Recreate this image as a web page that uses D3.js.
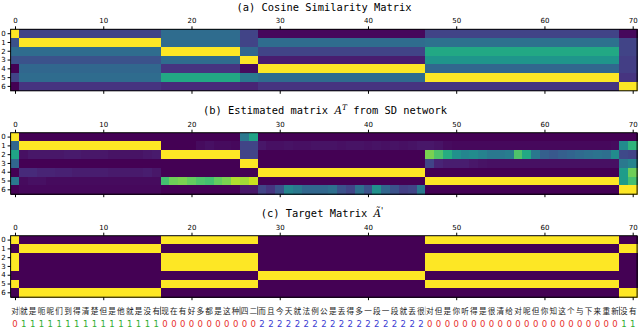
<!DOCTYPE html>
<meta charset="utf-8">
<title>SD matrices</title>
<style>
  body { margin: 0; background: #fff; }
  .tick text { font: 7px "DejaVu Sans", sans-serif; fill: #000; }
  .title { font: 10.4px "DejaVu Sans Mono", monospace; fill: #000; }
  .cell { shape-rendering: crispEdges; }
</style>
<body>
<svg id="chart" width="640" height="328"></svg>
<script src="https://cdn.jsdelivr.net/npm/d3@7"></script>
<script>
// column labels: one token per column, speaker id per column, segment id per column
var tokens = "对就是呃呢们到得清楚但是他就是没有现在有好多都是这种四二而且今天就法例公是丢得多一段一段就丢很对但是你听得是很清给对呢但你知这个与下来重新没有".split("");
var speakers = "01111111111111111000000000002222222222222222222000000000000000000000011".split("").map(Number);
var segments = "01111111111111111222222222334444444444444444444555555555555555555555566".split("").map(Number);
var segBreaks = [1, 17, 26, 28, 47, 69];
var xTicks = [0, 10, 20, 30, 40, 50, 60, 70];
var rowLabels = [0, 1, 2, 3, 4, 5, 6];

// (a) cosine similarity, row = segment, column = segment of each token
var cosine = [
  [1.00, 0.20, 0.35, 0.20, 0.02, 0.20, 0.02],
  [0.25, 1.00, 0.35, 0.20, 0.35, 0.37, 0.20],
  [0.35, 0.35, 1.00, 0.33, 0.20, 0.60, 0.20],
  [0.25, 0.25, 0.35, 1.00, 0.08, 0.52, 0.18],
  [0.00, 0.33, 0.15, 0.03, 1.00, 0.33, 0.18],
  [0.20, 0.35, 0.60, 0.40, 0.35, 1.00, 0.15],
  [0.00, 0.15, 0.12, 0.10, 0.15, 0.15, 1.00]
];

// (b) estimated matrix A^T, one row per output, one value per token
var est0 = [1.00,
  0,0,0,0,0,0,0,0,0,0,0,0,0,0,0,0,
  0,0,0,0,0,0,0,0,0, 0.40,0.58,
  0,0,0,0,0,0,0,0,0,0,0,0,0,0,0,0,0,0,0,
  0,0,0,0,0,0,0,0,0,0,0,0,0,0,0,0,0,0,0,0,0,0,
  0.00,0.00];
var est1 = [0.33,
  1,1,1,1,1,1,1,1,1,1,1,1,1,1,1,1,
  0.00,0.00,0.00,0.00,0.03,0.04,0.03,0.03,0.02, 0.20,0.20,
  0.06,0.04,0.04,0.05,0.04,0.04,0.05,0.05,0.05,0.04,0.05,0.05,0.04,0.05,0.04,0.05,0.04,0.05,0.06,
  0.06,0.05,0.03,0.02,0.02,0.02,0.02,0.02,0.02,0.02,0.02,0.02,0.02,0.02,0.02,0.02,0.02,0.02,0.02,0.02,0.02,0.03,
  0.48,0.65];
var est2 = [0.58,
  0.04,0.06,0.06,0.06,0.06,0.07,0.07,0.06,0.06,0.06,0.05,0.05,0.05,0.05,0.06,0.07,
  1,1,1,1,1,1,1,1,1, 0.20,0.20,
  0,0,0,0,0,0,0,0,0,0,0,0,0,0,0,0,0,0,0,
  0.80,0.72,0.62,0.50,0.46,0.48,0.44,0.40,0.40,0.42,0.72,0.60,0.40,0.30,0.27,0.30,0.32,0.34,0.36,0.38,0.36,0.48,
  0.22,0.20];
var est3 = [0.33,
  0,0,0,0,0,0,0,0,0,0,0,0,0,0,0,0,
  0,0,0,0,0,0,0,0,0, 1.00,1.00,
  0,0,0,0,0,0,0,0,0,0,0,0,0,0,0,0,0,0,0,
  0.20,0.10,0.08,0.08,0.08,0.06,0.05,0.04,0.04,0.04,0.04,0.04,0.04,0.04,0.04,0.04,0.04,0.04,0.04,0.04,0.04,0.04,
  0.40,0.45];
var est4 = [0.00,
  0.12,0.12,0.10,0.10,0.09,0.09,0.08,0.08,0.08,0.08,0.07,0.07,0.07,0.07,0.08,0.06,
  0,0,0,0,0,0,0,0,0, 0.00,0.00,
  1,1,1,1,1,1,1,1,1,1,1,1,1,1,1,1,1,1,1,
  0,0,0,0,0,0,0,0,0,0,0,0,0,0,0,0,0,0,0,0,0,0,
  0.55,0.78];
var est5 = [0.40,
  0.03,0.04,0.04,0.03,0.03,0.03,0.03,0.03,0.03,0.03,0.03,0.03,0.03,0.03,0.03,0.03,
  0.70,0.78,0.80,0.76,0.72,0.70,0.76,0.80,0.88, 0.86,0.92,
  0,0,0,0,0,0,0,0,0,0,0,0,0,0,0,0,0,0,0,
  1,1,1,1,1,1,1,1,1,1,1,1,1,1,1,1,1,1,1,1,1,1,
  0.55,0.70];
var est6 = [0.00,
  0.02,0.02,0.02,0.02,0.02,0.02,0.02,0.02,0.02,0.02,0.02,0.02,0.02,0.02,0.02,0.02,
  0,0,0,0,0,0,0,0,0, 0.06,0.06,
  0.20,0.15,0.25,0.45,0.40,0.33,0.33,0.33,0.36,0.25,0.20,0.36,0.25,0.50,0.33,0.25,0.18,0.20,0.40,
  0,0,0,0,0,0,0,0,0,0,0,0,0,0,0,0,0,0,0,0,0,0,
  1.00,1.00];
var estimated = [est0, est1, est2, est3, est4, est5, est6];

// (c) target matrix
var target = [
  "10000000000000000111111111110000000000000000000111111111111111111111100",
  "01111111111111111000000000000000000000000000000000000000000000000000011",
  "10000000000000000111111111110000000000000000000111111111111111111111100",
  "10000000000000000111111111110000000000000000000111111111111111111111100",
  "00000000000000000000000000001111111111111111111000000000000000000000000",
  "10000000000000000111111111110000000000000000000111111111111111111111100",
  "01111111111111111000000000000000000000000000000000000000000000000000011"
].map(function(s) { return s.split("").map(Number); });

var speakerColors = ["#e8302c", "#30ad30", "#3a3ad2"];

var svg = d3.select("#chart");
var cols = d3.range(tokens.length);

var x = d3.scaleBand().domain(cols).range([10.6, 637.1]);
var color = d3.scaleSequential(d3.interpolateViridis).domain([0, 1]);

var cosineFull = cosine.map(function(r) { return segments.map(function(s) { return r[s]; }); });

var panels = [
  {top: 29.3, data: cosineFull},
  {top: 132.7, data: estimated},
  {top: 235.7, data: target}
];

panels.forEach(function(p) {
  var y = d3.scaleBand().domain(rowLabels).range([p.top, p.top + 61.5]);
  var g = svg.append("g");
  p.data.forEach(function(row, r) {
    g.selectAll(null)
      .data(row)
      .enter().append("rect")
        .attr("class", "cell")
        .attr("x", function(d, i) { return x(i); })
        .attr("y", y(r))
        .attr("width", x.bandwidth() + 0.6)
        .attr("height", y.bandwidth() + 0.6)
        .attr("fill", function(d) { return color(d); });
  });
  g.append("rect")
    .attr("x", x.range()[0]).attr("y", p.top)
    .attr("width", x.range()[1] - x.range()[0]).attr("height", 61.5)
    .attr("fill", "none").attr("stroke", "#000").attr("stroke-width", 1);

  var xc = d3.scaleLinear().domain([0, 70]).range([x(0) + x.bandwidth() / 2, x(70) + x.bandwidth() / 2]);
  g.append("g").attr("transform", "translate(0," + p.top + ")")
    .call(d3.axisTop(xc).tickValues(xTicks).tickSize(3).tickPadding(3))
    .call(function(a) { a.select(".domain").remove(); });
  g.append("g").attr("transform", "translate(0," + (p.top + 61.5) + ")")
    .call(d3.axisBottom(xc).tickValues(xTicks).tickSize(3).tickFormat(""))
    .call(function(a) { a.select(".domain").remove(); });
  g.append("g").attr("transform", "translate(" + x.range()[0] + ",0)")
    .call(d3.axisLeft(y).tickSize(3).tickPadding(2))
    .call(function(a) { a.select(".domain").remove(); });
});

// titles
svg.append("text").attr("class", "title").attr("x", 324).attr("y", 11)
  .attr("text-anchor", "middle").text("(a) Cosine Similarity Matrix");

var tb = svg.append("text").attr("class", "title").attr("x", 325).attr("y", 114)
  .attr("text-anchor", "middle");
tb.append("tspan").text("(b) Estimated matrix ");
tb.append("tspan").attr("font-family", "DejaVu Serif").attr("font-style", "italic").text("A");
tb.append("tspan").attr("font-family", "DejaVu Serif").attr("font-style", "italic")
  .attr("font-size", 7.5).attr("dy", -4).text("T");
tb.append("tspan").attr("dy", 4).text(" from SD network");

var tc = svg.append("text").attr("class", "title").attr("x", 322).attr("y", 217)
  .attr("text-anchor", "middle");
tc.append("tspan").text("(c) Target Matrix ");
tc.append("tspan").attr("font-family", "DejaVu Serif").attr("font-style", "italic").text("\u00C3");
tc.append("tspan").attr("font-family", "DejaVu Sans").attr("font-size", 8).attr("dy", -3).text("'");

// tokens and speaker ids under the matrices
svg.append("g").selectAll("text")
  .data(tokens)
  .enter().append("text")
    .attr("x", function(d, i) { return x(i) + x.bandwidth() / 2; })
    .attr("y", 314)
    .attr("text-anchor", "middle")
    .attr("font-family", "Noto Sans CJK SC")
    .attr("font-size", 7.6)
    .attr("fill", "#222")
    .text(function(d) { return d; });

svg.append("g").selectAll("line")
  .data(segBreaks)
  .enter().append("line")
    .attr("x1", function(d) { return x(d); })
    .attr("x2", function(d) { return x(d); })
    .attr("y1", 306.5)
    .attr("y2", 315)
    .attr("stroke", function(d) { return (d == 1 || d == 47) ? "#bbb" : "#444"; })
    .attr("stroke-width", 0.8);

svg.append("g").selectAll("text")
  .data(speakers)
  .enter().append("text")
    .attr("x", function(d, i) { return x(i) + x.bandwidth() / 2; })
    .attr("y", 327)
    .attr("text-anchor", "middle")
    .attr("font-family", "DejaVu Sans")
    .attr("font-size", 8.5)
    .attr("fill", function(d) { return speakerColors[d]; })
    .text(function(d) { return d; });
</script>
</body>
